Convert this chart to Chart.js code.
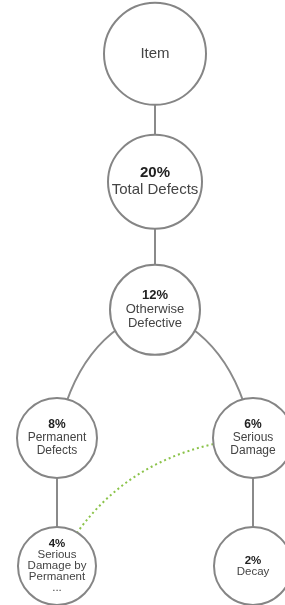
<!DOCTYPE html>
<html>
<head>
<meta charset="utf-8">
<script src="https://cdn.jsdelivr.net/npm/chart.js@4.4.1/dist/chart.umd.min.js"></script>
<style>
  html, body { margin: 0; padding: 0; background: #fff; }
  #wrap { position: relative; width: 285px; height: 605px; }
</style>
</head>
<body>
<div id="wrap"><canvas id="treeChart"></canvas></div>
<script>
// tree nodes, top to bottom
const nodeNames = ["Item", "Total Defects", "Otherwise\nDefective", "Permanent\nDefects", "Serious\nDamage", "Serious\nDamage by\nPermanent\n...", "Decay"];
const nodePercents = [null, 20, 12, 8, 6, 4, 2];
const nodeParents = [-1, 0, 1, 2, 2, 3, 4];
const nodeLevels = [0, 1, 2, 3, 3, 4, 4];
const nodeColumns = [1, 1, 1, 0, 2, 0, 2];
const crossLinks = [[4, 5]]; // dotted green link

// look per tree level
const radius = [51, 47, 45, 40, 39];
const fontSize = [15, 15, 13, 12, 11.5];
const lineGap = [16, 17, 14, 13, 11];
const fontFamily = "'Liberation Sans', Arial, sans-serif";

const treePlugin = {
  id: "tree",
  beforeDatasetsDraw(chart) {
    const ctx = chart.ctx;
    const pts = chart.getDatasetMeta(0).data;
    ctx.save();
    ctx.strokeStyle = "#8a8a8a";
    ctx.lineWidth = 2;
    nodeParents.forEach((p, i) => {
      if (p < 0) return;
      const a = pts[p], b = pts[i];
      ctx.beginPath();
      ctx.moveTo(a.x, a.y);
      if (Math.abs(a.x - b.x) < 1) {
        ctx.lineTo(b.x, b.y);
      } else {
        ctx.quadraticCurveTo(b.x + 0.2 * (a.x - b.x), a.y + 0.2 * (b.y - a.y), b.x, b.y);
      }
      ctx.stroke();
    });
    ctx.strokeStyle = "#8bc34a";
    ctx.setLineDash([2, 3]);
    crossLinks.forEach(([p, i]) => {
      const a = pts[p], b = pts[i];
      ctx.beginPath();
      ctx.moveTo(a.x, a.y);
      ctx.quadraticCurveTo(b.x + 0.3 * (a.x - b.x), a.y + 0.1 * (b.y - a.y), b.x, b.y);
      ctx.stroke();
    });
    ctx.restore();
  },
  afterDatasetsDraw(chart) {
    const ctx = chart.ctx;
    const pts = chart.getDatasetMeta(0).data;
    ctx.save();
    ctx.textAlign = "center";
    ctx.textBaseline = "middle";
    pts.forEach((pt, i) => {
      const lvl = nodeLevels[i];
      const lines = [];
      if (nodePercents[i] !== null) lines.push({ t: nodePercents[i] + "%", bold: true });
      nodeNames[i].split("\n").forEach(t => lines.push({ t: t, bold: false }));
      const gap = lineGap[lvl];
      let y = pt.y - (lines.length - 1) * gap / 2;
      lines.forEach(l => {
        ctx.font = (l.bold ? "bold " : "") + fontSize[lvl] + "px " + fontFamily;
        ctx.fillStyle = l.bold ? "#222" : "#444";
        ctx.fillText(l.t, pt.x, y);
        y += gap;
      });
    });
    ctx.restore();
  }
};

const points = nodeColumns.map((c, i) => ({ x: c, y: nodeLevels[i] }));

new Chart(document.getElementById("treeChart").getContext("2d"), {
  type: "scatter",
  data: {
    datasets: [{
      data: points,
      pointRadius: ctx => radius[nodeLevels[ctx.dataIndex]],
      pointHoverRadius: ctx => radius[nodeLevels[ctx.dataIndex]],
      backgroundColor: "#fff",
      borderColor: "#858585",
      borderWidth: 2,
      clip: false
    }]
  },
  options: {
    responsive: true,
    maintainAspectRatio: false,
    animation: false,
    layout: { padding: 0, autoPadding: false },
    events: [],
    scales: {
      x: { type: "linear", display: false, min: -0.5816, max: 2.3265 },
      y: { type: "linear", display: false, reverse: true, min: -0.42, max: 4.305 }
    },
    plugins: { legend: { display: false }, tooltip: { enabled: false } }
  },
  plugins: [treePlugin]
});
</script>
</body>
</html>
